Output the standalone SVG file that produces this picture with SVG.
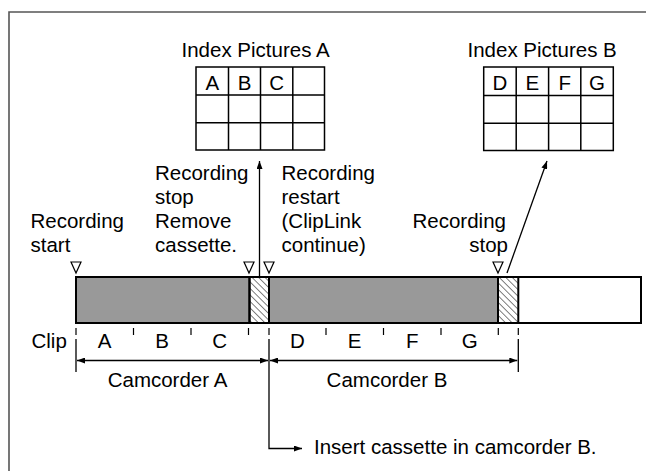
<svg xmlns="http://www.w3.org/2000/svg" width="646" height="471" viewBox="0 0 646 471">
<style>
text{font-family:"Liberation Sans",Arial,sans-serif;font-size:20.5px;fill:#000}
.c{text-anchor:middle}
.e{text-anchor:end}
.g{fill:none;stroke:#000;stroke-width:1.5}
.ln{fill:none;stroke:#000;stroke-width:1.3}
.tk{stroke:#000;stroke-width:1.2}
.tri{fill:#fff;stroke:#000;stroke-width:1.2}
</style>
<defs>
<pattern id="hatch" patternUnits="userSpaceOnUse" width="4.6" height="4.6" patternTransform="rotate(-45)">
<line x1="0" y1="0" x2="0" y2="4.6" stroke="#000" stroke-width="1"/>
</pattern>
<marker id="ah" markerWidth="8" markerHeight="6" refX="8" refY="3" orient="auto-start-reverse" markerUnits="userSpaceOnUse">
<path d="M0,0 L8,3 L0,6 Z" fill="#000"/>
</marker>
</defs>
<rect width="646" height="471" fill="#fff"/>
<path d="M9,471 V12 H646" fill="none" stroke="#555" stroke-width="1.6"/>

<g id="indexA">
<text x="181.5" y="57">Index Pictures A</text>
<rect class="g" x="196" y="67" width="128.5" height="83"/>
<path class="g" d="M228.5,67V150M260.5,67V150M292.8,67V150M196,95H324.5M196,122.7H324.5"/>
<text class="c" x="212.3" y="90">A</text>
<text class="c" x="244.6" y="90">B</text>
<text class="c" x="276.7" y="90">C</text>
</g>

<g id="indexB">
<text x="467.5" y="57">Index Pictures B</text>
<rect class="g" x="483.7" y="67" width="129.6" height="83.5"/>
<path class="g" d="M516.2,67V150.5M548.6,67V150.5M580.8,67V150.5M483.7,95.5H613.3M483.7,123.2H613.3"/>
<text class="c" x="500" y="90">D</text>
<text class="c" x="532.4" y="90">E</text>
<text class="c" x="564.7" y="90">F</text>
<text class="c" x="597" y="90">G</text>
</g>

<g id="labels">
<text x="30.5" y="228">Recording</text>
<text x="30.5" y="252">start</text>
<text x="155" y="180">Recording</text>
<text x="155" y="204">stop</text>
<text x="155" y="228">Remove</text>
<text x="155" y="252">cassette.</text>
<text x="281.5" y="180">Recording</text>
<text x="281.5" y="204">restart</text>
<text x="281.5" y="228">(ClipLink</text>
<text x="281.5" y="252">continue)</text>
<text x="412.5" y="228">Recording</text>
<text class="e" x="508" y="252">stop</text>
</g>

<g id="tape">
<rect x="76" y="277" width="565" height="46" fill="#fff" stroke="#000" stroke-width="2"/>
<rect x="76" y="277" width="173.5" height="46" fill="#999" stroke="#000" stroke-width="2"/>
<rect x="249.5" y="277" width="19.5" height="46" fill="url(#hatch)" stroke="#000" stroke-width="2"/>
<rect x="269" y="277" width="229" height="46" fill="#999" stroke="#000" stroke-width="2"/>
<rect x="498" y="277" width="20.3" height="46" fill="url(#hatch)" stroke="#000" stroke-width="2"/>
</g>

<g id="markers">
<path class="tri" d="M71,262 H81 L76,273 Z"/>
<path class="tri" d="M244,262 H254 L249,273 Z"/>
<path class="tri" d="M264,262 H274 L269,273 Z"/>
<path class="tri" d="M493,262 H503 L498,273 Z"/>
</g>

<g id="clips">
<text x="31.5" y="347.7">Clip</text>
<path class="tk" d="M76,328V335M133.5,328V335M191,328V335M248.5,328V335M269,328V335M326,328V335M383.5,328V335M441,328V335M498.3,328V335M518.3,328V335"/>
<text class="c" x="104.7" y="347.7">A</text>
<text class="c" x="162.2" y="347.7">B</text>
<text class="c" x="219.7" y="347.7">C</text>
<text class="c" x="297.5" y="347.7">D</text>
<text class="c" x="354.7" y="347.7">E</text>
<text class="c" x="412.2" y="347.7">F</text>
<text class="c" x="469.7" y="347.7">G</text>
<text class="c" x="167.5" y="387">Camcorder A</text>
<text class="c" x="387" y="387">Camcorder B</text>
<text x="314" y="453.5">Insert cassette in camcorder B.</text>
</g>

<g id="connectors">
<path class="ln" d="M76,339V372M518.3,339V372"/>
<path class="ln" d="M77,360.5H268" marker-start="url(#ah)" marker-end="url(#ah)"/>
<path class="ln" d="M270,360.5H517.3" marker-start="url(#ah)" marker-end="url(#ah)"/>
<path class="ln" d="M269,339V448.5H302" marker-end="url(#ah)"/>
<path class="ln" d="M259.5,276V161" marker-end="url(#ah)"/>
<path class="ln" d="M507,273L547,161" marker-end="url(#ah)"/>
</g>
</svg>
